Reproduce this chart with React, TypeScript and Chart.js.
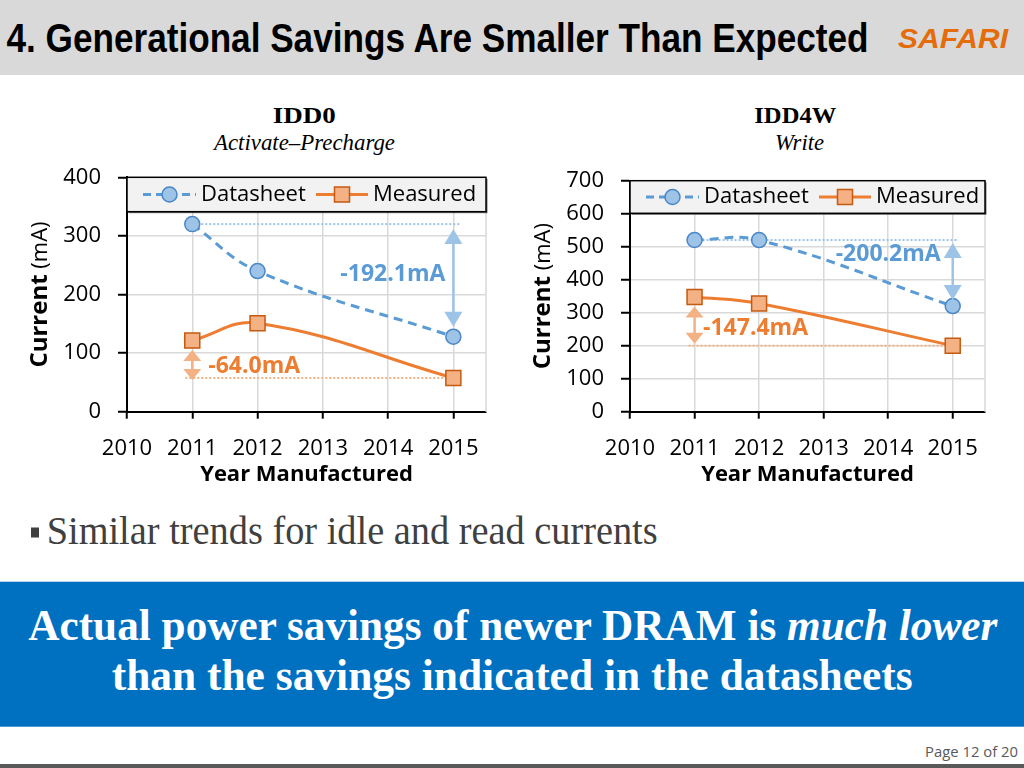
import React, { useEffect, useRef } from "react";
import { Chart, registerables } from "chart.js";

Chart.register(...registerables);

// ---------------- data ----------------
const years = [2011, 2012, 2015];
const xTickValues = [2010, 2011, 2012, 2013, 2014, 2015];
const seriesNames = ["Datasheet", "Measured"];

const idd0Datasheet = [320.1, 240, 128];
const idd0Measured = [121.6, 151, 57.6];
const idd0YTicks = [0, 100, 200, 300, 400];

const idd4wDatasheet = [520.2, 520, 320];
const idd4wMeasured = [347.4, 328, 200];
const idd4wYTicks = [0, 100, 200, 300, 400, 500, 600, 700];

const yTitleBold = "Current";
const yTitleRegular = " (mA)";
const xTitle = "Year Manufactured";

// ---------------- styles ----------------
const FONT = "'Open Sans', 'Noto Sans', sans-serif";
const BLUE = "#5b9bd5";
const BLUE_EDGE = "#4a86c8";
const BLUE_FILL = "#9dc3e6";
const BLUE_LIGHT = "#9dc3e6";
const ORANGE = "#ed7d31";
const ORANGE_EDGE = "#c55a11";
const ORANGE_FILL = "#f4b183";
const ORANGE_LIGHT = "#f4b183";
const GRID = "#d9d9d9";

type Panel = {
  canvas: { left: number; top: number; width: number; height: number };
  plot: { left: number; right: number; top: number; bottom: number };
  xMax: number;
  legendHeight: number;
  datasheet: number[];
  measured: number[];
  yTicks: number[];
  dsLine: [number, number];
  msLine: [number, number];
  dsArrow: [number, number];
  msArrow: [number, number];
  dsLabel: [number, number];
  msLabel: [number, number];
};

const idd0Panel: Panel = {
  canvas: { left: 0, top: 140, width: 510, height: 360 },
  plot: { left: 127, right: 486, top: 177.3, bottom: 411.7 },
  xMax: 2015.5,
  legendHeight: 34.4,
  datasheet: idd0Datasheet,
  measured: idd0Measured,
  yTicks: idd0YTicks,
  dsLine: [9, 7],
  msLine: [-7, 0],
  dsArrow: [5, 10],
  msArrow: [9.5, -2],
  dsLabel: [-8, -6],
  msLabel: [16, 7],
};

const idd4wPanel: Panel = {
  canvas: { left: 510, top: 140, width: 514, height: 360 },
  plot: { left: 630, right: 985, top: 180.7, bottom: 411.7 },
  xMax: 2015.5,
  legendHeight: 32.6,
  datasheet: idd4wDatasheet,
  measured: idd4wMeasured,
  yTicks: idd4wYTicks,
  dsLine: [8, 6],
  msLine: [-6, 0],
  dsArrow: [3, 6],
  msArrow: [9.5, 2],
  dsLabel: [-12, -19],
  msLabel: [8.5, 6.6],
};

function seg(ctx: CanvasRenderingContext2D, x1: number, y1: number, x2: number, y2: number) {
  ctx.beginPath();
  ctx.moveTo(x1, y1);
  ctx.lineTo(x2, y2);
  ctx.stroke();
}

function doubleArrow(ctx: CanvasRenderingContext2D, x: number, yTop: number, yBot: number, color: string, hl: number) {
  const hw = 9;
  ctx.save();
  ctx.setLineDash([]);
  ctx.strokeStyle = color;
  ctx.fillStyle = color;
  ctx.lineWidth = 2.5;
  seg(ctx, x, yTop + hl - 1, x, yBot - hl + 1);
  ctx.beginPath();
  ctx.moveTo(x, yTop);
  ctx.lineTo(x - hw, yTop + hl);
  ctx.lineTo(x + hw, yTop + hl);
  ctx.closePath();
  ctx.fill();
  ctx.beginPath();
  ctx.moveTo(x, yBot);
  ctx.lineTo(x - hw, yBot - hl);
  ctx.lineTo(x + hw, yBot - hl);
  ctx.closePath();
  ctx.fill();
  ctx.restore();
}

function decorPlugin(p: Panel) {
  return {
    id: "decor",
    beforeDatasetsDraw(chart: any) {
      const { ctx, chartArea: a } = chart;
      const xs = chart.scales.x;
      const ys = chart.scales.y;
      ctx.save();
      ctx.strokeStyle = GRID;
      ctx.lineWidth = 1.5;
      seg(ctx, a.right, a.top, a.right, a.bottom);

      const x0 = xs.getPixelForValue(years[0]);
      const x1 = xs.getPixelForValue(years[years.length - 1]);
      ctx.lineWidth = 2;
      ctx.setLineDash([2, 2]);
      const yd = ys.getPixelForValue(p.datasheet[0]);
      ctx.strokeStyle = BLUE_LIGHT;
      seg(ctx, x0 + p.dsLine[0], yd, x1 + p.dsLine[1], yd);
      const ym = ys.getPixelForValue(p.measured[p.measured.length - 1]);
      ctx.strokeStyle = ORANGE_LIGHT;
      seg(ctx, x0 + p.msLine[0], ym, x1 + p.msLine[1], ym);
      ctx.restore();
    },
    afterDatasetsDraw(chart: any) {
      const { ctx } = chart;
      const xs = chart.scales.x;
      const ys = chart.scales.y;
      const n = years.length - 1;
      const x0 = xs.getPixelForValue(years[0]);
      const x1 = xs.getPixelForValue(years[n]);

      const dTop = ys.getPixelForValue(p.datasheet[0]);
      const dBot = ys.getPixelForValue(p.datasheet[n]);
      doubleArrow(ctx, x1, dTop + p.dsArrow[0], dBot - p.dsArrow[1], BLUE_LIGHT, 15);

      const mTop = ys.getPixelForValue(p.measured[0]);
      const mBot = ys.getPixelForValue(p.measured[n]);
      doubleArrow(ctx, x0, mTop + p.msArrow[0], mBot - p.msArrow[1], ORANGE_LIGHT, 11);

      ctx.save();
      ctx.font = `bold 23px ${FONT}`;
      ctx.textBaseline = "middle";
      ctx.fillStyle = BLUE;
      ctx.textAlign = "right";
      const dsText = `${(p.datasheet[n] - p.datasheet[0]).toFixed(1)}mA`;
      ctx.fillText(dsText, x1 + p.dsLabel[0], (dTop + dBot) / 2 + p.dsLabel[1]);
      ctx.fillStyle = ORANGE;
      ctx.textAlign = "left";
      const msText = `${(p.measured[n] - p.measured[0]).toFixed(1)}mA`;
      ctx.fillText(msText, x0 + p.msLabel[0], (mTop + mBot) / 2 + p.msLabel[1]);
      ctx.restore();
    },
    afterDraw(chart: any) {
      const { ctx, chartArea: a } = chart;
      ctx.save();
      // legend box
      const left = a.left;
      const top = a.top;
      const w = a.right - a.left;
      const h = p.legendHeight;
      ctx.fillStyle = "rgba(0,0,0,0.55)";
      ctx.fillRect(left + 1.5, top + 1.5, w, h);
      ctx.fillStyle = "#f2f2f2";
      ctx.fillRect(left, top, w, h);
      ctx.strokeStyle = "#000";
      ctx.lineWidth = 1.5;
      ctx.strokeRect(left, top, w, h);
      const cy = top + h / 2;

      ctx.strokeStyle = BLUE;
      ctx.lineWidth = 3;
      ctx.setLineDash([8, 5]);
      seg(ctx, left + 16, cy, left + 69, cy);
      ctx.setLineDash([]);
      ctx.beginPath();
      ctx.arc(left + 42.5, cy, 7.5, 0, Math.PI * 2);
      ctx.fillStyle = BLUE_FILL;
      ctx.fill();
      ctx.lineWidth = 1.5;
      ctx.strokeStyle = BLUE_EDGE;
      ctx.stroke();

      ctx.strokeStyle = ORANGE;
      ctx.lineWidth = 3;
      seg(ctx, left + 189, cy, left + 241, cy);
      ctx.fillStyle = ORANGE_FILL;
      ctx.fillRect(left + 215 - 7.5, cy - 7.5, 15, 15);
      ctx.lineWidth = 1.5;
      ctx.strokeStyle = ORANGE_EDGE;
      ctx.strokeRect(left + 215 - 7.5, cy - 7.5, 15, 15);

      ctx.fillStyle = "#000";
      ctx.font = `22px ${FONT}`;
      ctx.textBaseline = "middle";
      ctx.textAlign = "left";
      ctx.fillText(seriesNames[0], left + 74, cy);
      ctx.fillText(seriesNames[1], left + 246, cy);

      // y axis title (mixed weight)
      ctx.translate(a.left - 86.5, (a.top + a.bottom) / 2);
      ctx.rotate(-Math.PI / 2);
      ctx.font = `bold 24px ${FONT}`;
      const wb = ctx.measureText(yTitleBold).width;
      ctx.font = `22px ${FONT}`;
      const wr = ctx.measureText(yTitleRegular).width;
      const start = -(wb + wr) / 2;
      ctx.font = `bold 24px ${FONT}`;
      ctx.fillText(yTitleBold, start, 0);
      ctx.font = `22px ${FONT}`;
      ctx.fillText(yTitleRegular, start + wb, 0);
      ctx.restore();
    },
  };
}

function ChartPanel({ panel }: { panel: Panel }) {
  const ref = useRef<HTMLCanvasElement>(null);
  useEffect(() => {
    const p = panel;
    const canvas = ref.current;
    if (!canvas) return;
    const canvasBottom = p.canvas.top + p.canvas.height;
    const canvasRight = p.canvas.left + p.canvas.width;
    const chart = new Chart(canvas, {
      type: "line",
      data: {
        datasets: [
          {
            label: seriesNames[0],
            data: years.map((x, i) => ({ x, y: p.datasheet[i] })),
            borderColor: BLUE,
            borderWidth: 3,
            borderDash: [9, 6],
            tension: 0.4,
            fill: false,
            pointStyle: "circle",
            pointRadius: 7.5,
            pointBackgroundColor: BLUE_FILL,
            pointBorderColor: BLUE_EDGE,
            pointBorderWidth: 1.5,
          },
          {
            label: seriesNames[1],
            data: years.map((x, i) => ({ x, y: p.measured[i] })),
            borderColor: ORANGE,
            borderWidth: 3,
            tension: 0.4,
            fill: false,
            pointStyle: "rect",
            pointRadius: 10.6,
            pointBackgroundColor: ORANGE_FILL,
            pointBorderColor: ORANGE_EDGE,
            pointBorderWidth: 1.5,
          },
        ],
      },
      options: {
        responsive: false,
        animation: false,
        devicePixelRatio: 1,
        events: [],
        layout: {
          padding: {
            left: 0,
            top: p.plot.top - p.canvas.top,
            right: canvasRight - p.plot.right,
            bottom: 0,
          },
        },
        plugins: {
          legend: { display: false },
          tooltip: { enabled: false },
          title: { display: false },
        },
        scales: {
          x: {
            type: "linear",
            min: xTickValues[0],
            max: p.xMax,
            afterBuildTicks: (s: any) => {
              s.ticks = xTickValues.map((v) => ({ value: v }));
            },
            afterFit: (s: any) => {
              s.height = canvasBottom - p.plot.bottom;
            },
            ticks: {
              autoSkip: false,
              maxRotation: 0,
              padding: 17,
              color: "#000",
              font: { family: FONT, size: 22 },
              callback: (v: any) => String(v),
            },
            grid: {
              color: GRID,
              lineWidth: 1.5,
              drawTicks: true,
              tickLength: 7,
              tickColor: "#000",
              tickWidth: 2,
            },
            border: { display: true, color: "#000", width: 2 },
            title: {
              display: true,
              text: xTitle,
              color: "#000",
              font: { family: FONT, size: 22, weight: "bold" },
              padding: { top: 0, bottom: 12 },
            },
          },
          y: {
            type: "linear",
            min: p.yTicks[0],
            max: p.yTicks[p.yTicks.length - 1],
            afterBuildTicks: (s: any) => {
              s.ticks = p.yTicks.map((v) => ({ value: v }));
            },
            afterFit: (s: any) => {
              s.width = p.plot.left - p.canvas.left;
            },
            ticks: {
              padding: 17,
              color: "#000",
              font: { family: FONT, size: 22 },
              callback: (v: any) => String(v),
            },
            grid: {
              color: GRID,
              lineWidth: 1.5,
              drawTicks: true,
              tickLength: 9,
              tickColor: "#000",
              tickWidth: 2,
            },
            border: { display: true, color: "#000", width: 2 },
          },
        },
      } as any,
      plugins: [decorPlugin(p) as any],
    });
    return () => chart.destroy();
  }, [panel]);
  return (
    <canvas
      ref={ref}
      width={panel.canvas.width}
      height={panel.canvas.height}
      style={{
        position: "absolute",
        left: panel.canvas.left,
        top: panel.canvas.top,
        width: panel.canvas.width,
        height: panel.canvas.height,
      }}
    />
  );
}

const SERIF = "'Liberation Serif', 'DejaVu Serif', serif";

export default function App() {
  return (
    <div
      style={{
        position: "absolute",
        left: 0,
        top: 0,
        width: 1024,
        height: 768,
        background: "#ffffff",
        overflow: "hidden",
      }}
    >
      <svg width={1024} height={768} style={{ position: "absolute", left: 0, top: 0 }}>
        <rect x={0} y={0} width={1024} height={75} fill="#d9d9d9" />
        <text
          x={6.5}
          y={51.7}
          fontFamily="'Liberation Sans Narrow', 'Liberation Sans', Arial, sans-serif"
          fontWeight="bold"
          fontSize={41}
          fill="#000"
          textLength={862}
          lengthAdjust="spacingAndGlyphs"
        >
          4. Generational Savings Are Smaller Than Expected
        </text>
        <text
          x={898}
          y={48.3}
          fontFamily="'Liberation Sans', Arial, sans-serif"
          fontWeight="bold"
          fontStyle="italic"
          fontSize={28}
          fill="#e46c0a"
          textLength={110}
          lengthAdjust="spacingAndGlyphs"
        >
          SAFARI
        </text>

        <text x={272.7} y={122.7} fontFamily={SERIF} fontWeight="bold" fontSize={24} fill="#000" textLength={63} lengthAdjust="spacingAndGlyphs">
          IDD0
        </text>
        <text x={214} y={150} fontFamily={SERIF} fontStyle="italic" fontSize={24} fill="#000" textLength={181} lengthAdjust="spacingAndGlyphs">
          Activate–Precharge
        </text>
        <text x={754.3} y={122.7} fontFamily={SERIF} fontWeight="bold" fontSize={24} fill="#000" textLength={82} lengthAdjust="spacingAndGlyphs">
          IDD4W
        </text>
        <text x={775} y={150} fontFamily={SERIF} fontStyle="italic" fontSize={24} fill="#000" textLength={49} lengthAdjust="spacingAndGlyphs">
          Write
        </text>

        <rect x={31} y={527.5} width={8} height={10} fill="#404040" />
        <text x={46.7} y={544} fontFamily={SERIF} fontSize={40} fill="#404040" textLength={611} lengthAdjust="spacingAndGlyphs">
          Similar trends for idle and read currents
        </text>

        <rect x={0} y={581.7} width={1024} height={145} fill="#0070c0" />
        <text x={28.3} y={640} fontFamily={SERIF} fontWeight="bold" fontSize={44} fill="#ffffff" textLength={969} lengthAdjust="spacingAndGlyphs">
          Actual power savings of newer DRAM is <tspan fontStyle="italic">much lower</tspan>
        </text>
        <text x={111.7} y={690} fontFamily={SERIF} fontWeight="bold" fontSize={44} fill="#ffffff" textLength={801} lengthAdjust="spacingAndGlyphs">
          than the savings indicated in the datasheets
        </text>

        <text x={925} y={757} fontFamily="'Open Sans', 'Noto Sans', sans-serif" fontSize={14} fill="#595959" textLength={93} lengthAdjust="spacingAndGlyphs">
          Page 12 of 20
        </text>
        <rect x={0} y={764} width={1024} height={4} fill="#595959" />
      </svg>
      <ChartPanel panel={idd0Panel} />
      <ChartPanel panel={idd4wPanel} />
    </div>
  );
}
